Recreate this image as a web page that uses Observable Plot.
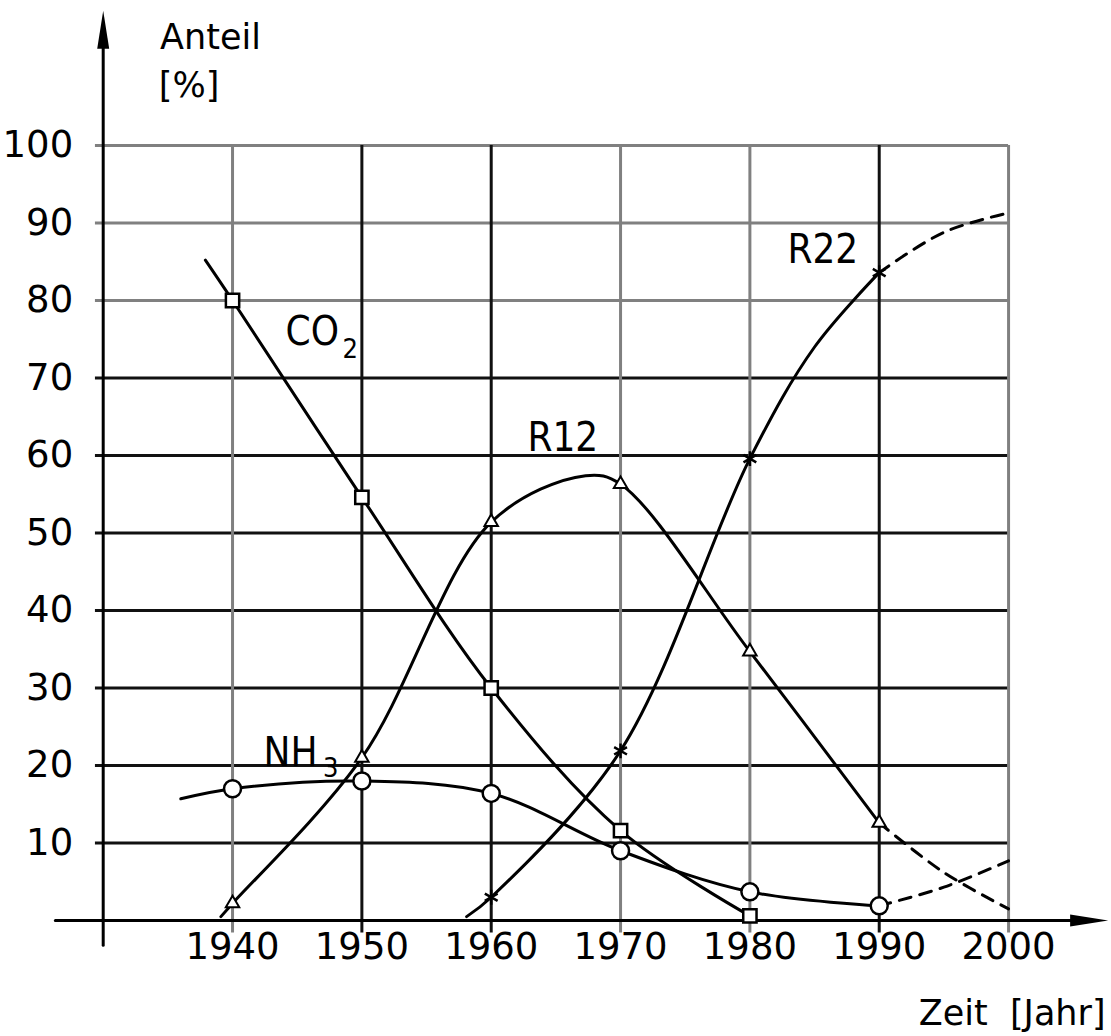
<!DOCTYPE html>
<html>
<head>
<meta charset="utf-8">
<script src="https://cdn.jsdelivr.net/npm/d3@7"></script>
<script src="https://cdn.jsdelivr.net/npm/@observablehq/plot@0.6"></script>
<style>
  html, body { margin: 0; padding: 0; background: #fff; }
  #chart svg { display: block; }
</style>
</head>
<body>
<div id="chart"></div>
<script>
// ---- data ----
const years = [1940, 1950, 1960, 1970, 1980, 1990, 2000];
const yTicks = [10, 20, 30, 40, 50, 60, 70, 80, 90, 100];

// CO2 (squares)
const co2Curve  = [[1937.9, 85.2], [1940, 80], [1950, 54.6], [1960, 30], [1970, 11.6], [1980, 0.6]];
const co2Marks  = [[1940, 80], [1950, 54.6], [1960, 30], [1970, 11.6], [1980, 0.6]];

// R12 (triangles)
const r12Curve  = [[1939.1, 0.5], [1940, 2.2], [1950, 21], [1960, 51.4], [1967.3, 57.4], [1970, 56.3], [1980, 34.7], [1990, 12.6]];
const r12Dashed = [[1990, 12.6], [1995, 6.2], [2000, 1.5]];
const r12Marks  = [[1940, 2.2], [1950, 21], [1960, 51.4], [1970, 56.3], [1980, 34.7], [1990, 12.6]];

// R22 (stars)
const r22Curve  = [[1958.1, 0.5], [1960, 3], [1970, 21.9], [1980, 59.6], [1985, 74], [1990, 83.6]];
const r22Dashed = [[1990, 83.6], [1995, 88.8], [2000, 91.3]];
const r22Marks  = [[1960, 3], [1970, 21.9], [1980, 59.6], [1990, 83.6]];

// NH3 (circles)
const nh3Curve  = [[1936, 15.7], [1940, 17], [1950, 18], [1960, 16.4], [1970, 9], [1980, 3.7], [1990, 1.9]];
const nh3Dashed = [[1990, 1.9], [1995, 4.3], [2000, 7.7]];
const nh3Marks  = [[1940, 17], [1950, 18], [1960, 16.4], [1970, 9], [1980, 3.7], [1990, 1.9]];

const seriesLabels = [
  {x: 1944.1, y: 74.2, text: "CO"},
  {x: 1962.8, y: 60.6, text: "R12"},
  {x: 1982.9, y: 84.9, text: "R22"},
  {x: 1942.4, y: 20.0, text: "NH"}
];
const subscripts = [
  {x: 1948.5, y: 72.6, text: "2"},
  {x: 1947.0, y: 18.5, text: "3"}
];
const titlesLeft  = [
  {x: 1934.4, y: 112.5, text: "Anteil"},
  {x: 1934.3, y: 106.2, text: "[%]"}
];
const titlesRight = [
  {x: 2007.5, y: -13.5, text: "Zeit  [Jahr]"}
];
const yAxisSpan = [[1930, -3.2], [1930, 113]];
const xAxisSpan = [[1926.3, 0], [2005, 0]];
const arrowTips = [{x: 1930, y: 117.4, rot: 0}, {x: 2007.7, y: 0, rot: 90}];

// ---- styles ----
const FONT = "'DejaVu Sans', sans-serif";
const NARROW = "'Liberation Sans Narrow', 'Arial Narrow', 'DejaVu Sans Condensed', 'DejaVu Sans', sans-serif";
const grayH = new Set([80, 90, 100]);
const grayV = new Set([1940, 1970, 1980, 2000]);

const arrowHead = {
  draw(context) {
    const L = 38, w = 12;
    context.moveTo(0, 0);
    context.lineTo(w / 2, L);
    context.lineTo(-w / 2, L);
    context.closePath();
  }
};

const X = d => d[0], Y = d => d[1];
const solid = {x: X, y: Y, curve: "catmull-rom", stroke: "#000", strokeWidth: 3};
const dashed = {...solid, strokeDasharray: "12,9"};

const chart = Plot.plot({
  width: 1111,
  height: 1036,
  marginLeft: 102.7,
  marginRight: 12.4,
  marginTop: 145,
  marginBottom: 116,
  style: {fontFamily: FONT, background: "#fff", color: "#000"},
  x: {domain: [1930, 2007], axis: null},
  y: {domain: [0, 100], axis: null},
  marks: [
    // grid
    Plot.ruleY(yTicks, {y: d => d, x1: 1929.4, x2: 2000, stroke: d => grayH.has(d) ? "#808080" : "#111", strokeWidth: 3}),
    Plot.ruleX(years, {x: d => d, y1: -1.6, y2: 100, stroke: d => grayV.has(d) ? "#808080" : "#111", strokeWidth: 3}),
    // axis lines with arrow heads
    Plot.line(yAxisSpan, {x: X, y: Y, stroke: "#000", strokeWidth: 3}),
    Plot.line(xAxisSpan, {x: X, y: Y, stroke: "#000", strokeWidth: 3}),
    Plot.dot(arrowTips, {x: "x", y: "y", rotate: "rot", symbol: arrowHead, fill: "#000", stroke: "none", r: 5}),
    // tick labels
    Plot.axisY(yTicks, {tickSize: 0, tickPadding: 30, fontSize: 37, fontFamily: FONT, label: null}),
    Plot.axisX(years, {tickSize: 0, tickPadding: 12, fontSize: 37, fontFamily: FONT, label: null, tickFormat: d => String(d)}),
    // curves
    Plot.line(co2Curve, solid),
    Plot.line(r12Curve, solid),
    Plot.line(r22Curve, solid),
    Plot.line(nh3Curve, solid),
    Plot.line(r12Dashed, dashed),
    Plot.line(r22Dashed, dashed),
    Plot.line(nh3Dashed, dashed),
    // markers
    Plot.dot(co2Marks, {x: X, y: Y, symbol: "square", r: 7.5, fill: "#fff", stroke: "#000", strokeWidth: 2.5}),
    Plot.dot(nh3Marks, {x: X, y: Y, symbol: "circle", r: 8.5, fill: "#fff", stroke: "#000", strokeWidth: 2.5}),
    Plot.dot(r12Marks, {x: X, y: Y, symbol: "triangle", r: 5, fill: "#fff", stroke: "#000", strokeWidth: 2}),
    Plot.dot(r22Marks, {x: X, y: Y, symbol: "asterisk", r: 7, stroke: "#000", strokeWidth: 2.5}),
    // labels
    Plot.text(seriesLabels, {x: "x", y: "y", text: "text", textAnchor: "start", lineAnchor: "bottom", fontSize: 40, fontFamily: NARROW, fill: "#000"}),
    Plot.text(subscripts, {x: "x", y: "y", text: "text", textAnchor: "start", lineAnchor: "bottom", fontSize: 27, fontFamily: NARROW, fill: "#000"}),
    Plot.text(titlesLeft, {x: "x", y: "y", text: "text", textAnchor: "start", lineAnchor: "bottom", fontSize: 35, fontFamily: FONT, fill: "#000"}),
    Plot.text(titlesRight, {x: "x", y: "y", text: "text", textAnchor: "end", lineAnchor: "bottom", fontSize: 35, fontFamily: FONT, fill: "#000"})
  ]
});
document.getElementById("chart").appendChild(chart);
</script>
</body>
</html>
